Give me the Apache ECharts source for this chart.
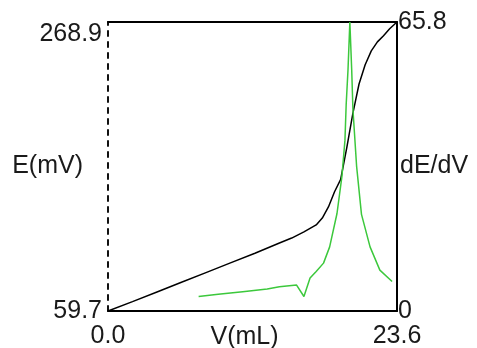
<!DOCTYPE html>
<html>
<head>
<meta charset="utf-8">
<script src="https://cdn.jsdelivr.net/npm/echarts@6/dist/echarts.min.js"></script>
<style>
  html, body { margin: 0; padding: 0; background: #fff; }
  #chart { width: 477px; height: 348px; }
</style>
</head>
<body>
<div id="chart"></div>
<script>
// titration curve E vs V
const volume = [0, 2, 4, 6, 8, 10, 12, 14, 15, 16, 17, 17.5, 18, 18.5, 19, 19.5, 20, 20.5, 21, 21.5, 22, 22.5, 23, 23.6];
const potential = [59.7, 66.5, 73.5, 80.5, 87.5, 94.5, 101.5, 108.9, 112.5, 117, 122, 127, 135, 146, 155, 178, 203, 224, 238, 248, 254.5, 259, 264, 268.9];

// first derivative dE/dV
const dVolume = [7.4, 9, 11, 13, 14, 15.4, 16.0, 16.5, 17.0, 17.6, 18.1, 18.7, 19.1, 19.35, 19.45, 19.6, 19.75, 19.9, 20.0, 20.3, 20.7, 21.4, 22.2, 23.2];
const dEdV = [3.3, 3.8, 4.4, 5.0, 5.5, 5.9, 3.3, 7.5, 9.0, 10.9, 14.6, 22.2, 30.6, 38.9, 47, 55, 65.8, 55, 46, 33, 22, 14.6, 9.3, 6.7];

const xTicks = [0, 23.6];
const eTicks = [59.7, 268.9];
const dTicks = [0, 65.8];

const font = "'Liberation Sans', Arial, sans-serif";
const textColor = '#1a1a1a';

const chart = echarts.init(document.getElementById('chart'), null, { renderer: 'canvas' });

chart.setOption({
  backgroundColor: '#fff',
  animation: false,
  textStyle: { fontFamily: font },
  grid: { left: 108, right: 80, top: 22, bottom: 37, containLabel: false, outerBoundsMode: 'none' },
  xAxis: [
    {
      type: 'value',
      min: 0,
      max: 23.6,
      name: 'V(mL)',
      nameLocation: 'middle',
      nameGap: 14,
      nameMoveOverlap: false,
      nameTextStyle: { fontSize: 25, color: textColor, fontFamily: font, padding: [0, 16, 0, 0] },
      axisLine: { onZero: false, lineStyle: { color: '#000', width: 2 } },
      axisTick: { show: false },
      splitLine: { show: false },
      axisLabel: {
        customValues: xTicks,
        formatter: v => v.toFixed(1),
        fontSize: 25,
        color: textColor,
        fontFamily: font,
        margin: 13
      }
    },
    {
      type: 'value',
      position: 'top',
      min: 0,
      max: 23.6,
      axisLine: { show: true, onZero: false, lineStyle: { color: '#000', width: 2 } },
      axisTick: { show: false },
      axisLabel: { show: false },
      splitLine: { show: false }
    }
  ],
  yAxis: [
    {
      type: 'value',
      min: 59.7,
      max: 268.9,
      name: 'E(mV)',
      nameLocation: 'middle',
      nameRotate: 0,
      nameGap: 25,
      nameMoveOverlap: false,
      nameTextStyle: { fontSize: 25, color: textColor, fontFamily: font },
      axisLine: { show: true, onZero: false, lineStyle: { color: '#111', width: 2, type: [5, 6] } },
      axisTick: { show: false },
      splitLine: { show: false },
      axisLabel: {
        customValues: eTicks,
        formatter: v => v.toFixed(1),
        fontSize: 25,
        color: textColor,
        fontFamily: font,
        margin: 6,
        verticalAlignMaxLabel: 'top'
      }
    },
    {
      type: 'value',
      position: 'right',
      min: 0,
      max: 65.8,
      name: 'dE/dV',
      nameLocation: 'middle',
      nameRotate: 0,
      nameGap: 3,
      nameMoveOverlap: false,
      nameTextStyle: { fontSize: 25, color: textColor, fontFamily: font },
      axisLine: { show: true, onZero: false, lineStyle: { color: '#000', width: 2 } },
      axisTick: { show: false },
      splitLine: { show: false },
      axisLabel: {
        customValues: dTicks,
        formatter: v => (v === 0 ? '0' : v.toFixed(1)),
        fontSize: 25,
        color: textColor,
        fontFamily: font,
        margin: 1
      }
    }
  ],
  series: [
    {
      name: 'E',
      type: 'line',
      xAxisIndex: 0,
      yAxisIndex: 0,
      data: volume.map((v, i) => [v, potential[i]]),
      showSymbol: false,
      lineStyle: { color: '#000', width: 1.5 }
    },
    {
      name: 'dE/dV',
      type: 'line',
      xAxisIndex: 0,
      yAxisIndex: 1,
      data: dVolume.map((v, i) => [v, dEdV[i]]),
      showSymbol: false,
      lineStyle: { color: '#3cc83c', width: 1.5 }
    }
  ]
});
</script>
</body>
</html>
